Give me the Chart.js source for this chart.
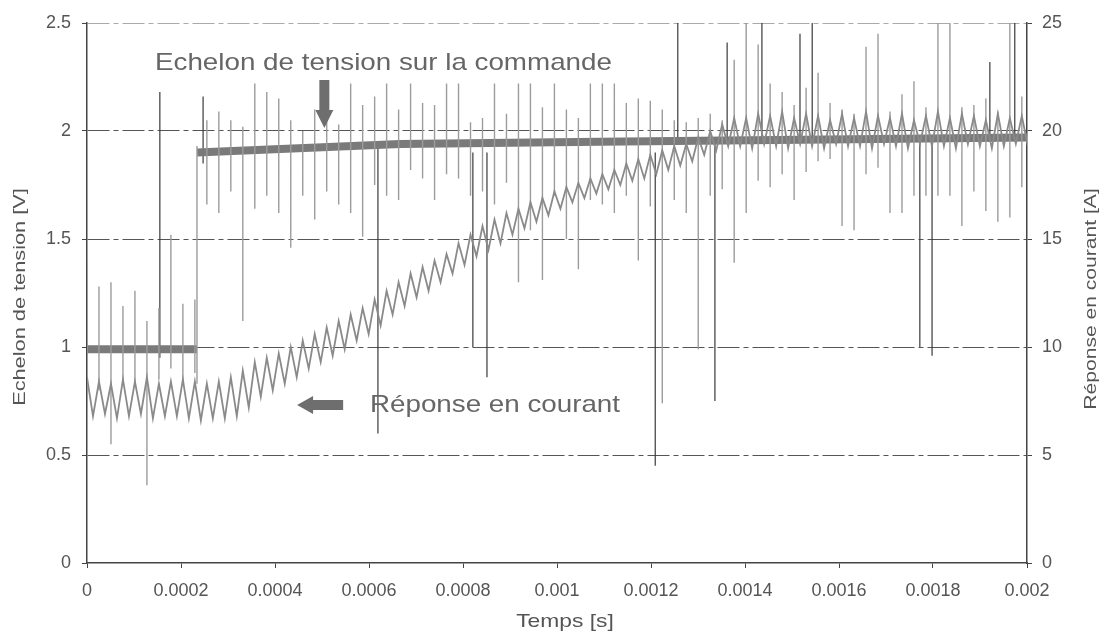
<!DOCTYPE html>
<html><head><meta charset="utf-8">
<script src="https://cdn.jsdelivr.net/npm/chart.js@4.4.1/dist/chart.umd.min.js"></script>
<style>html,body{margin:0;padding:0;background:#fff}canvas{display:block}</style>
</head><body>
<canvas id="c" width="1105" height="637"></canvas>
<script>
// ---------- DATA ----------
const PERIOD_US = 25.5; // switching period (µs), peaks at k*PERIOD, valleys half a period later

// Current response [A] (right axis): peak / valley of each switching period
const currentPeaksA = [
  8.6, 8.4, 8.3, 8.5, 8.4, 8.6, 8.3, 8.4, 8.5, 8.4,
  8.3, 8.4, 8.6, 8.9, 9.3, 9.5, 9.7, 10.0, 10.3, 10.6,
  10.9, 11.2, 11.5, 11.8, 12.2, 12.6, 13.0, 13.4, 13.7, 14.0,
  14.3, 14.8, 15.2, 15.6, 15.9, 16.2, 16.4, 16.7, 16.9, 17.2,
  17.4, 17.6, 17.8, 18.0, 18.2, 18.5, 18.7, 18.9, 19.1, 19.3,
  19.4, 19.7, 20.0, 20.3, 20.6, 20.6, 20.8, 20.7, 20.9, 20.6,
  20.8, 20.7, 20.5, 20.8, 20.6, 20.9, 20.7, 20.6, 20.8, 20.5,
  20.7, 20.9, 20.6, 20.8, 20.7, 20.5, 20.8, 20.6, 20.7, 20.8
];
const currentValleysA = [
  6.8, 6.9, 6.7, 6.8, 6.9, 6.7, 6.8, 6.8, 6.7, 6.6,
  6.7, 6.7, 6.8, 7.2, 7.7, 8.0, 8.3, 8.6, 9.0, 9.3,
  9.6, 9.9, 10.3, 10.6, 11.0, 11.5, 11.9, 12.3, 12.6, 13.0,
  13.4, 13.8, 14.2, 14.5, 14.8, 15.2, 15.5, 15.8, 16.1, 16.4,
  16.7, 16.9, 17.1, 17.3, 17.5, 17.7, 17.8, 18.0, 18.2, 18.4,
  18.6, 18.9, 19.1, 19.3, 19.3, 19.2, 19.4, 19.3, 19.2, 19.4,
  19.3, 19.2, 19.4, 19.3, 19.3, 19.2, 19.4, 19.3, 19.2, 19.4,
  19.3, 19.3, 19.2, 19.4, 19.3, 19.2, 19.3, 19.4, 19.3
];

// Voltage step on the command [V] (left axis); null = break at the step
const voltageTimesUs = [0, 234, 234, 234, 666, 1091, 2000];
const voltageV       = [0.99, 0.99, null, 1.90, 1.94, 1.95, 1.97];

// Switching spikes on the voltage trace [V], one per period k
const spikeHighV = [
  1.40, 1.28, 1.30, 1.19, 1.26, 1.12, 1.18, 1.52, 1.20, 1.22,
  2.05, 2.09, 2.05, 2.02, 2.22, 2.18, 2.15, 2.05, 2.00, 2.10,
  2.08, 2.03, 2.22, 2.12, 2.16, 2.22, 2.10, 2.22, 2.13, 2.12,
  2.22, 2.22, 2.04, 2.06, 2.22, 2.08, 2.22, 2.22, 2.11, 2.22,
  2.10, 2.06, 2.22, 2.22, 2.22, 2.13, 2.15, 2.14, 2.10, 2.05,
  2.04, 2.06, 2.08, 2.05, 2.33, 2.50, 2.40, 2.22, 2.18, 2.12,
  2.20, 2.27, 2.13, 2.10, 2.08, 2.39, 2.45, 2.09, 2.17, 2.23,
  2.11, 2.50, 2.50, 2.11, 2.12, 2.15, 2.09, 2.50, 2.16
];
const spikeLowV = [
  0.71, 0.80, 0.55, 0.85, 0.82, 0.36, 0.85, 0.90, 0.84, 0.88,
  1.66, 1.62, 1.72, 1.12, 1.64, 1.70, 1.62, 1.46, 1.70, 1.59,
  1.72, 1.66, 1.62, 1.51, 1.75, 1.70, 1.68, 1.82, 1.78, 1.68,
  1.80, 1.78, 1.70, 1.72, 1.66, 1.76, 1.30, 1.54, 1.31, 1.70,
  1.50, 1.36, 1.68, 1.66, 1.62, 1.70, 1.40, 1.65, 0.74, 1.68,
  1.62, 0.99, 1.70, 1.73, 1.39, 1.62, 1.77, 1.74, 1.80, 1.68,
  1.81, 1.86, 1.87, 1.56, 1.54, 1.80, 1.83, 1.62, 1.62, 1.70,
  1.70, 1.70, 1.70, 1.56, 1.72, 1.63, 1.58, 1.60, 1.74
];

// Irregular spikes (step edge + dark glitches)
const extraSpikeUs    = [234, 155, 247, 619, 821, 851, 1209, 1257, 1336, 1362, 1436, 1517, 1543, 1772, 1798, 1921, 1974];
const extraSpikeHighV = [1.93, 2.18, 2.16, 1.95, 1.90, 1.90, 1.90, 2.50, 1.95, 2.41, 2.50, 2.45, 2.50, 1.95, 1.95, 2.32, 2.50];
const extraSpikeLowV  = [0.83, 0.95, 1.85, 0.60, 1.00, 0.86, 0.45, 1.95, 0.75, 1.95, 1.95, 1.95, 1.95, 1.00, 0.96, 1.95, 1.95];
const extraSpikeDark  = [false, true, true, true, true, true, true, true, true, true, true, true, true, true, true, true, true];

// Tick labels
const xTickLabels = ['0','0.0002','0.0004','0.0006','0.0008','0.001','0.0012','0.0014','0.0016','0.0018','0.002'];
const yLeftTickLabels = ['0','0.5','1','1.5','2','2.5'];
const yRightTickLabels = ['0','5','10','15','20','25'];

// Texts
const xTitle = 'Temps [s]';
const yLeftTitle = 'Echelon de tension [V]';
const yRightTitle = 'Réponse en courant [A]';
const labelStep = 'Echelon de tension sur la commande';
const labelCurrent = 'Réponse en courant';

// Annotation anchors in data units (t in s, value in V)
const stepLabelAt = {t: 0.0001447, v: 2.282};
const currentLabelAt = {t: 0.000602, v: 0.699};
const downArrow = {t: 0.000505, vTail: 2.236, vHead: 2.097, vTip: 2.014};
const leftArrow = {v: 0.731, tTip: 0.000447, tHead: 0.000481, tTail: 0.000545};

// ---------- BUILD ----------
const us = v => v * 1e-6;
const currentData = [];
currentPeaksA.forEach((p, k) => {
  currentData.push({x: us(k * PERIOD_US), y: p});
  if (k < currentValleysA.length) currentData.push({x: us((k + 0.5) * PERIOD_US), y: currentValleysA[k]});
});
const voltageData = voltageTimesUs.map((t, i) => ({x: us(t), y: voltageV[i]}));
const lightSpikes = [], darkSpikes = [];
spikeHighV.forEach((h, k) => {
  const t = us(k * PERIOD_US);
  lightSpikes.push({x: t, y: spikeLowV[k]}, {x: t, y: h}, {x: t, y: null});
});
extraSpikeUs.forEach((tu, i) => {
  const t = us(tu);
  const arr = extraSpikeDark[i] ? darkSpikes : lightSpikes;
  arr.push({x: t, y: extraSpikeLowV[i]}, {x: t, y: extraSpikeHighV[i]}, {x: t, y: null});
});

const FONT = "'Liberation Sans', Arial, Helvetica, sans-serif";
Chart.defaults.font.family = FONT;

function stretchedText(ctx, text, x, y, size, sx, color, rot, align) {
  ctx.save();
  ctx.translate(x, y);
  if (rot) ctx.rotate(rot);
  ctx.scale(sx, 1);
  ctx.font = size + 'px ' + FONT;
  ctx.fillStyle = color;
  ctx.textAlign = align || 'left';
  ctx.textBaseline = 'alphabetic';
  ctx.fillText(text, 0, 0);
  ctx.restore();
}

const annotations = {
  id: 'annotations',
  afterDatasetsDraw(chart) {
    const {ctx, scales} = chart;
    const x = scales.x, y = scales.y;
    ctx.save();
    ctx.fillStyle = '#6e6e6e';
    // down arrow
    const ax = x.getPixelForValue(downArrow.t);
    const a0 = y.getPixelForValue(downArrow.vTail), a1 = y.getPixelForValue(downArrow.vHead), a2 = y.getPixelForValue(downArrow.vTip);
    ctx.beginPath();
    ctx.moveTo(ax - 5, a0); ctx.lineTo(ax + 5, a0); ctx.lineTo(ax + 5, a1); ctx.lineTo(ax + 9, a1);
    ctx.lineTo(ax, a2); ctx.lineTo(ax - 9, a1); ctx.lineTo(ax - 5, a1); ctx.closePath(); ctx.fill();
    // left arrow
    const ly = y.getPixelForValue(leftArrow.v);
    const lt = x.getPixelForValue(leftArrow.tTip), lh = x.getPixelForValue(leftArrow.tHead), lb = x.getPixelForValue(leftArrow.tTail);
    ctx.beginPath();
    ctx.moveTo(lb, ly - 5); ctx.lineTo(lb, ly + 5); ctx.lineTo(lh, ly + 5); ctx.lineTo(lh, ly + 9);
    ctx.lineTo(lt, ly); ctx.lineTo(lh, ly - 9); ctx.lineTo(lh, ly - 5); ctx.closePath(); ctx.fill();
    ctx.restore();
    // annotation texts
    stretchedText(ctx, labelStep, x.getPixelForValue(stepLabelAt.t), y.getPixelForValue(stepLabelAt.v), 24, 1.157, '#666', 0, 'left');
    stretchedText(ctx, labelCurrent, x.getPixelForValue(currentLabelAt.t), y.getPixelForValue(currentLabelAt.v), 24, 1.157, '#666', 0, 'left');
  },
  afterDraw(chart) {
    const {ctx, chartArea} = chart;
    const cy = (chartArea.top + chartArea.bottom) / 2;
    stretchedText(ctx, xTitle, (chartArea.left + chartArea.right) / 2 + 8, 627, 19, 1.2, '#555', 0, 'center');
    stretchedText(ctx, yLeftTitle, 25, cy + 4, 17, 1.28, '#555', -Math.PI / 2, 'center');
    stretchedText(ctx, yRightTitle, 1096, cy + 6, 17, 1.24, '#555', -Math.PI / 2, 'center');
  }
};

const gridColor = ctx => {
  const v = ctx.tick ? ctx.tick.value : null;
  if (v === 0) return 'rgba(0,0,0,0)';
  if (v === 2.5) return '#aaa';
  return '#555';
};

new Chart(document.getElementById('c'), {
  type: 'line',
  data: {
    datasets: [
      {label: 'Réponse en courant', data: currentData, yAxisID: 'y1', borderColor: '#8a8a8a', borderWidth: 1.8, pointRadius: 0, tension: 0},
      {label: 'Pics', data: lightSpikes, yAxisID: 'y', borderColor: '#9c9c9c', borderWidth: 1.4, pointRadius: 0, spanGaps: false},
      {label: 'Echelon de tension', data: voltageData, yAxisID: 'y', borderColor: '#7a7a7a', borderWidth: 8, pointRadius: 0, spanGaps: false, borderCapStyle: 'butt'},
      {label: 'Pics sombres', data: darkSpikes, yAxisID: 'y', borderColor: '#3a3a3a', borderWidth: 1.2, pointRadius: 0, spanGaps: false}
    ]
  },
  options: {
    responsive: false,
    animation: false,
    devicePixelRatio: 1,
    layout: {padding: {top: 23, left: 0, right: 0, bottom: 0}},
    plugins: {legend: {display: false}, tooltip: {enabled: false}},
    scales: {
      x: {
        type: 'linear', min: 0, max: 0.002,
        ticks: {stepSize: 0.0002, color: '#555', font: {size: 18}, padding: 12, maxRotation: 0, autoSkip: false,
                callback: (v, i) => xTickLabels[i]},
        grid: {drawOnChartArea: false, drawTicks: true, tickLength: 5, tickColor: '#444'},
        border: {display: true, color: '#444', width: 1.5},
        afterFit: s => { s.height = 74; }
      },
      y: {
        type: 'linear', position: 'left', min: 0, max: 2.5,
        ticks: {stepSize: 0.5, color: '#555', font: {size: 18}, padding: 11, callback: (v, i) => yLeftTickLabels[i]},
        grid: {drawOnChartArea: true, drawTicks: true, tickLength: 5, color: gridColor, tickColor: '#444', lineWidth: 1},
        border: {display: true, color: '#444', width: 1.5, dash: [22, 4, 5, 4]},
        afterFit: s => { s.width = 87; }
      },
      y1: {
        type: 'linear', position: 'right', min: 0, max: 25,
        ticks: {stepSize: 5, color: '#555', font: {size: 18}, padding: 10, callback: (v, i) => yRightTickLabels[i]},
        grid: {drawOnChartArea: false, drawTicks: true, tickLength: 5, tickColor: '#444'},
        border: {display: true, color: '#444', width: 1.5},
        afterFit: s => { s.width = 78; }
      }
    }
  },
  plugins: [annotations]
});
</script>
</body></html>
